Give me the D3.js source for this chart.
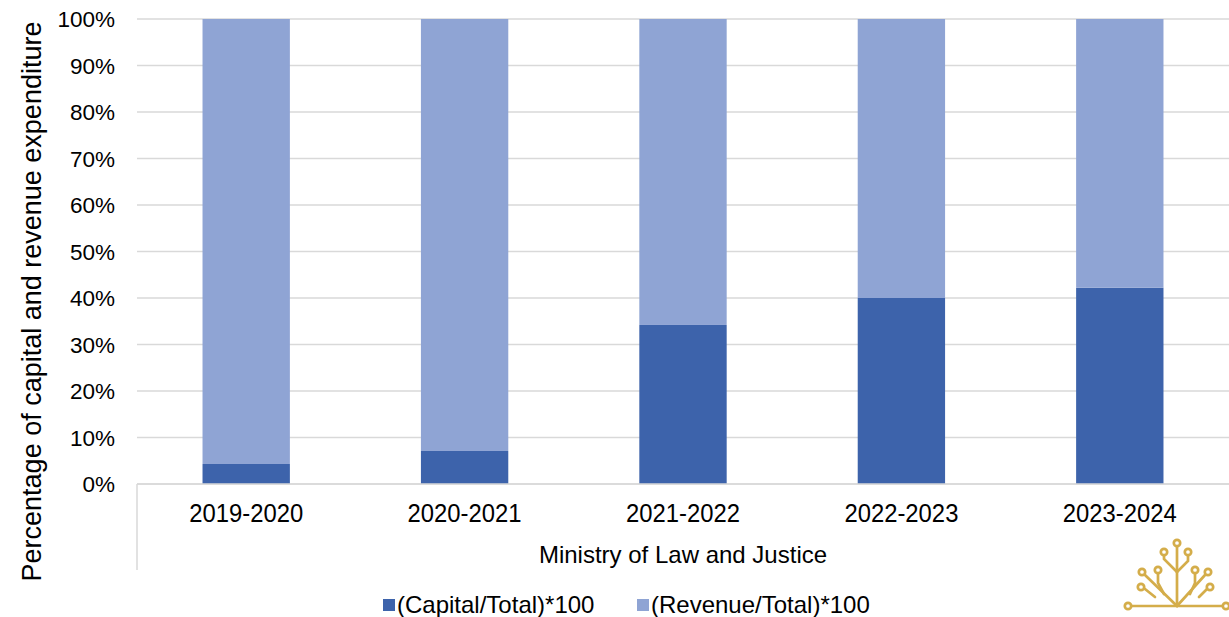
<!DOCTYPE html>
<html lang="en">
  <head>
    <meta charset="utf-8" />
    <title>Capital and Revenue Expenditure</title>
    <script src="https://d3js.org/d3.v7.min.js"></script>
    <style>
      body { margin: 0; background: #fff; }
      text { font-family: "Liberation Sans", Arial, sans-serif; fill: #000; }
    </style>
  </head>
  <body>
    <div id="chart"></div>
    <script>
      // Data
      const years = ["2019-2020", "2020-2021", "2021-2022", "2022-2023", "2023-2024"];
      const capitalPct = [4.3, 7.1, 34.2, 40.0, 42.2];
      const revenuePct = capitalPct.map((c) => 100 - c);
      const seriesNames = ["(Capital/Total)*100", "(Revenue/Total)*100"];
      const seriesColors = ["#3d63ab", "#8fa4d4"];
      const yTicks = [0, 10, 20, 30, 40, 50, 60, 70, 80, 90, 100];

      const W = 1229, H = 617;
      const margin = { top: 19, right: 0, bottom: 133, left: 137 };
      const width = W - margin.left - margin.right;
      const height = H - margin.top - margin.bottom;

      const svg = d3.select("#chart").append("svg")
        .attr("width", W).attr("height", H);
      const g = svg.append("g")
        .attr("transform", `translate(${margin.left},${margin.top})`);

      const x = d3.scaleBand().domain(years).range([0, width]).paddingInner(0.6).paddingOuter(0.3);
      const y = d3.scaleLinear().domain([0, 100]).range([height, 0]);

      // Gridlines
      g.selectAll(".grid").data(yTicks).enter().append("line")
        .attr("x1", 0).attr("x2", width)
        .attr("y1", (d) => y(d)).attr("y2", (d) => y(d))
        .attr("stroke", "#d9d9d9").attr("stroke-width", 1.5);

      // Y tick labels
      g.selectAll(".ytick").data(yTicks).enter().append("text")
        .attr("x", -22).attr("y", (d) => y(d)).attr("dy", "0.36em")
        .attr("text-anchor", "end").style("font-size", "22.5px")
        .text((d) => d + "%");

      // Stacked bars
      const rows = years.map((yr, i) => ({ year: yr, capital: capitalPct[i], revenue: revenuePct[i] }));
      const stack = d3.stack().keys(["capital", "revenue"])(rows);
      g.selectAll(".series").data(stack).enter().append("g")
        .attr("fill", (d, i) => seriesColors[i])
        .selectAll("rect").data((d) => d).enter().append("rect")
        .attr("x", (d) => x(d.data.year))
        .attr("width", x.bandwidth())
        .attr("y", (d) => y(d[1]))
        .attr("height", (d) => y(d[0]) - y(d[1]));

      // Axis line and the multi-level category border
      g.append("line").attr("x1", 0).attr("x2", width)
        .attr("y1", height).attr("y2", height)
        .attr("stroke", "#d9d9d9").attr("stroke-width", 1.5);
      g.append("line").attr("x1", 0).attr("x2", 0)
        .attr("y1", height).attr("y2", height + 86)
        .attr("stroke", "#d9d9d9").attr("stroke-width", 1.5);

      // X tick labels
      g.selectAll(".xtick").data(years).enter().append("text")
        .attr("x", (d) => x(d) + x.bandwidth() / 2).attr("y", height + 38)
        .attr("text-anchor", "middle").style("font-size", "25px")
        .attr("textLength", 114).attr("lengthAdjust", "spacingAndGlyphs")
        .text((d) => d);

      g.append("text")
        .attr("x", width / 2).attr("y", height + 79)
        .attr("text-anchor", "middle").style("font-size", "24px")
        .text("Ministry of Law and Justice");

      // Y axis title
      svg.append("text")
        .attr("transform", `translate(41,${margin.top + height / 2 + 50}) rotate(-90)`)
        .attr("text-anchor", "middle").style("font-size", "27px")
        .text("Percentage of capital and revenue expenditure");

      // Legend
      const legendX = [383, 637];
      seriesNames.forEach((name, i) => {
        svg.append("rect").attr("x", legendX[i]).attr("y", 599)
          .attr("width", 12).attr("height", 12).attr("fill", seriesColors[i]);
        svg.append("text").attr("x", legendX[i] + 14).attr("y", 613)
          .style("font-size", "24px")
          .text(name);
      });

      // Logo (tree mark) in the lower right corner
      const logo = svg.append("g")
        .attr("fill", "none").attr("stroke", "#d4ad4a")
        .attr("stroke-width", 2.7).attr("stroke-linecap", "round");
      const logoLines = [
        [[1131, 606], [1223, 606]],
        [[1177, 606], [1177, 547]],
        [[1177, 572], [1164, 559], [1164, 556]],
        [[1177, 572], [1188, 561], [1188, 556]],
        [[1177, 606], [1145, 575]],
        [[1164, 594], [1158, 583], [1158, 574]],
        [[1155, 597], [1145, 589]],
        [[1177, 606], [1205, 575]],
        [[1190, 594], [1195, 583], [1195, 574]],
        [[1199, 597], [1207, 589]],
      ];
      logoLines.forEach((pts) => logo.append("path").attr("d", d3.line()(pts)));
      const logoDots = [
        [1128, 606], [1226, 606], [1177, 543], [1164, 552], [1188, 552],
        [1142, 572], [1158, 570], [1141, 587], [1208, 572], [1195, 570], [1210, 587],
      ];
      logo.selectAll("circle").data(logoDots).enter().append("circle")
        .attr("cx", (d) => d[0]).attr("cy", (d) => d[1]).attr("r", 3.2)
        .attr("fill", "#fff");
    </script>
  </body>
</html>
